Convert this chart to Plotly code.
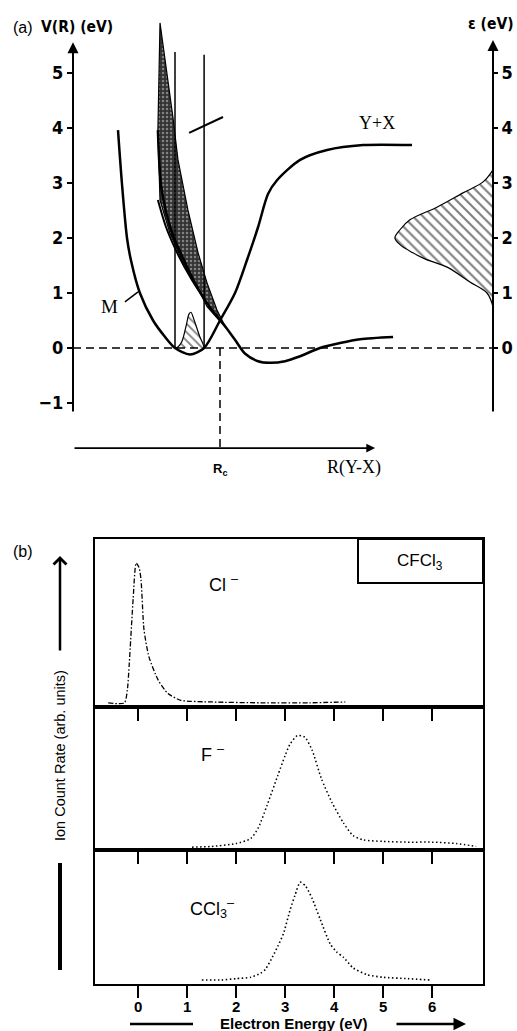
import plotly.graph_objects as go

W, H = 517, 1031
SANS = "Liberation Sans, Arial, sans-serif"
NARROW = "Liberation Sans Narrow, DejaVu Sans Condensed, Liberation Sans, Arial, sans-serif"
SERIF = "Liberation Serif, Times New Roman, serif"

# ---------------- Panel (a): potential-energy schematic ----------------
# R in arbitrary units, V / epsilon in eV
M_R = [1.5, 1.63, 1.8, 1.93, 2.23, 2.67, 3.07, 3.4, 3.9, 4.37, 4.9, 5.4, 5.8, 6.17, 6.5, 6.8, 7.57, 8.47, 9.67, 11.3]
M_V = [3.96, 3.0, 2.0, 1.6, 1.0, 0.5, 0.2, 0.0, -0.12, 0.0, 0.5, 1.0, 1.6, 2.2, 2.8, 3.05, 3.42, 3.6, 3.69, 3.69]
REP_R = [2.83, 2.95, 3.3, 3.73, 4.2, 4.63, 4.97, 5.4, 5.73, 6.17, 6.57, 7.07, 7.57, 8.23, 8.9, 9.57, 10.67]
REP_V = [3.96, 2.9, 2.1, 1.56, 1.05, 0.69, 0.47, 0.15, -0.1, -0.24, -0.27, -0.24, -0.15, 0.0, 0.09, 0.16, 0.2]
REP2_R = [2.83, 3.1, 3.5, 3.95, 4.4]
REP2_V = [2.69, 2.2, 1.7, 1.25, 0.87]
BAND_R = [2.9, 2.83, 2.9, 3.23, 3.63, 4.07, 4.47, 5.1, 4.8, 4.47, 4.17, 3.83, 3.5, 3.33, 2.9]
BAND_V = [5.91, 3.96, 2.69, 2.09, 1.6, 1.18, 0.75, 0.36, 0.69, 1.18, 1.73, 2.51, 3.42, 4.2, 5.91]
PSI_R = [3.4, 3.5, 3.63, 3.77, 3.87, 3.93, 4.03, 4.13, 4.23, 4.33, 4.37]
PSI_V = [0, 0.02, 0.12, 0.4, 0.62, 0.65, 0.52, 0.36, 0.2, 0.08, 0]
EPS_R = [14.0, 13.8, 13.23, 12.47, 11.73, 11.33, 10.9, 10.73, 10.9, 11.23, 12.13, 13.0, 13.67, 14.0]
EPS_V = [0.75, 1.0, 1.2, 1.47, 1.62, 1.73, 1.88, 2.0, 2.15, 2.33, 2.56, 2.82, 3.02, 3.24]
FC_R = [3.4, 4.37]
FC_TOP = [5.38, 5.33]
SLASH_R = [3.87, 5.0]
SLASH_V = [3.91, 4.2]
V_TICKS = [-1, 0, 1, 2, 3, 4, 5]
EPS_TICKS = [0, 1, 2, 3, 4, 5]
R_C = 4.9
R_AXIS_END = 10.07
EPS_AXIS_R = 14.0

# ---------------- Panel (b): ion yield spectra ----------------
E_TICKS = [0, 1, 2, 3, 4, 5, 6]
CL_E = [-0.61, -0.28, -0.22, -0.18, -0.1, -0.04, 0.02, 0.06, 0.12, 0.22, 0.41, 0.61, 0.87, 1.5, 2.5, 3.5, 4.23]
CL_Y = [0.024, 0.024, 0.1, 0.26, 0.65, 0.857, 0.83, 0.755, 0.46, 0.3, 0.16, 0.08, 0.04, 0.03, 0.025, 0.025, 0.03]
F_E = [1.1, 1.5, 2.0, 2.3, 2.46, 2.63, 2.85, 3.0, 3.1, 3.25, 3.4, 3.55, 3.74, 3.96, 4.19, 4.39, 4.6, 5.0, 5.5, 6.0, 6.5, 6.9]
F_Y = [0.02, 0.025, 0.045, 0.08, 0.16, 0.31, 0.52, 0.66, 0.74, 0.80, 0.79, 0.70, 0.50, 0.33, 0.19, 0.10, 0.07, 0.06, 0.055, 0.055, 0.045, 0.025]
CCL3_E = [1.3, 1.7, 2.0, 2.3, 2.5, 2.6, 2.74, 2.85, 2.97, 3.1, 3.2, 3.31, 3.42, 3.55, 3.72, 3.92, 4.05, 4.19, 4.39, 4.67, 5.0, 5.5, 5.95]
CCL3_Y = [0.03, 0.03, 0.04, 0.05, 0.08, 0.11, 0.2, 0.28, 0.38, 0.55, 0.66, 0.76, 0.73, 0.64, 0.48, 0.3, 0.24, 0.2, 0.12, 0.07, 0.05, 0.04, 0.03]


def px(x):
    return x / W


def py(y):
    return 1 - y / H


fig = go.Figure()

# band (stippled)
fig.add_trace(go.Scatter(x=BAND_R, y=BAND_V, mode="lines", fill="toself",
                         line=dict(color="black", width=1.2),
                         fillcolor="#4a4a4a",
                         fillpattern=dict(shape=".", fgcolor="#d0d0d0", bgcolor="#333333", size=4, solidity=0.3),
                         xaxis="x", yaxis="y", hoverinfo="skip"))
# Franck-Condon vertical lines
for r, top in zip(FC_R, FC_TOP):
    fig.add_trace(go.Scatter(x=[r, r], y=[0, top], mode="lines",
                             line=dict(color="black", width=1.5), xaxis="x", yaxis="y", hoverinfo="skip"))
# small vibrational wavefunction (hatched)
fig.add_trace(go.Scatter(x=PSI_R, y=PSI_V, mode="lines", fill="toself", line=dict(color="black", width=1.2, shape="spline"),
                         fillcolor="white",
                         fillpattern=dict(shape="\\", fgcolor="black", bgcolor="white", size=6, solidity=0.3),
                         xaxis="x", yaxis="y", hoverinfo="skip"))
# epsilon distribution (hatched)
fig.add_trace(go.Scatter(x=EPS_R, y=EPS_V, mode="lines", fill="toself", line=dict(color="black", width=1.2, shape="spline"),
                         fillcolor="white",
                         fillpattern=dict(shape="\\", fgcolor="black", bgcolor="white", size=7, solidity=0.3),
                         xaxis="x", yaxis="y", hoverinfo="skip"))
# neutral potential M
fig.add_trace(go.Scatter(x=M_R, y=M_V, mode="lines", line=dict(color="black", width=2.5, shape="spline", smoothing=0.8),
                         xaxis="x", yaxis="y", hoverinfo="skip"))
# anion potential
fig.add_trace(go.Scatter(x=REP_R, y=REP_V, mode="lines", line=dict(color="black", width=2.5, shape="spline", smoothing=0.8),
                         xaxis="x", yaxis="y", hoverinfo="skip"))
fig.add_trace(go.Scatter(x=REP2_R, y=REP2_V, mode="lines", line=dict(color="black", width=2, shape="spline", smoothing=0.8),
                         xaxis="x", yaxis="y", hoverinfo="skip"))
# small slanted mark
fig.add_trace(go.Scatter(x=SLASH_R, y=SLASH_V, mode="lines", line=dict(color="black", width=2),
                         xaxis="x", yaxis="y", hoverinfo="skip"))
# dashed zero line
fig.add_trace(go.Scatter(x=[0, EPS_AXIS_R], y=[0, 0], mode="lines", line=dict(color="black", width=1.5, dash="8px,5px"),
                         xaxis="x", yaxis="y", hoverinfo="skip"))
# dashed Rc line
fig.add_trace(go.Scatter(x=[R_C, R_C], y=[0, -1.82], mode="lines", line=dict(color="black", width=1.5, dash="8px,5px"),
                         xaxis="x", yaxis="y", hoverinfo="skip"))
# invisible trace on y2 so the right axis is drawn
fig.add_trace(go.Scatter(x=[EPS_AXIS_R], y=[0], mode="markers", marker=dict(size=0.1, color="rgba(0,0,0,0)"),
                         xaxis="x", yaxis="y2", hoverinfo="skip"))

# ---- panel (b) traces ----
fig.add_trace(go.Scatter(x=CL_E, y=CL_Y, mode="lines", line=dict(color="black", width=1.3, dash="5px,2px,1.5px,2px", shape="spline", smoothing=0.6),
                         xaxis="x3", yaxis="y3", hoverinfo="skip"))
fig.add_trace(go.Scatter(x=F_E, y=F_Y, mode="lines", line=dict(color="black", width=1.5, dash="1.5px,2.5px", shape="spline", smoothing=0.6),
                         xaxis="x4", yaxis="y4", hoverinfo="skip"))
fig.add_trace(go.Scatter(x=CCL3_E, y=CCL3_Y, mode="lines", line=dict(color="black", width=1.6, dash="1.5px,2.5px", shape="spline", smoothing=0.6),
                         xaxis="x5", yaxis="y5", hoverinfo="skip"))

ann = []


def darrow(x0, y0, x1, y1, width=2):
    ann.append(dict(x=x1, y=y1, ax=x0, ay=y0, xref="x", yref="y", axref="x", ayref="y",
                    text="", showarrow=True, arrowhead=2, arrowsize=1.1, arrowwidth=width, arrowcolor="black"))


darrow(0, -1.18, 0, 5.56)
darrow(EPS_AXIS_R, -1.18, EPS_AXIS_R, 5.6)
darrow(0, -1.82, R_AXIS_END, -1.82, 1.6)


def txt(x, y, s, size, family=SANS, xref="paper", yref="paper", xanchor="center", **kw):
    ann.append(dict(x=x, y=y, xref=xref, yref=yref, text=s, showarrow=False, xanchor=xanchor, yanchor="middle",
                    font=dict(size=size, family=family, color="black"), **kw))


txt(px(11), py(27), "(a)", 16, xanchor="left")
txt(px(39), py(27), "<b>V(R) (eV)</b>", 15.5, NARROW, xanchor="left")
txt(px(516), py(24), "<b>ε (eV)</b>", 15.5, NARROW, xanchor="right")
txt(10.13, 4.09, "Y+X", 18, SERIF, xref="x", yref="y")
txt(1.23, 0.75, "M", 19, SERIF, xref="x", yref="y")
txt(R_C, -2.2, "<b>R<sub>c</sub></b>", 13, xref="x", yref="y")
txt(9.37, -2.18, "R(Y-X)", 18, SERIF, xref="x", yref="y")

# panel (b) texts
txt(px(11), py(551), "(b)", 16, xanchor="left")
txt(px(207), py(583), "Cl <sup>–</sup>", 18, xanchor="left")
txt(px(199), py(753), "F <sup>–</sup>", 18, xanchor="left")
txt(px(188), py(908), "CCl<sub>3</sub><sup>–</sup>", 18, xanchor="left")
txt(px(420), py(562), "CFCl<sub>3</sub>", 17)
txt(px(60), py(756), "Ion Count Rate (arb. units)", 14.5, textangle=-90)
txt(px(294), py(1023), "<b>Electron Energy (eV)</b>", 15)
ann.append(dict(x=px(60), y=py(556), ax=0, ay=96, xref="paper", yref="paper", axref="pixel", ayref="pixel",
                text="", showarrow=True, arrowhead=4, arrowsize=1, arrowwidth=2.5, arrowcolor="black"))
ann.append(dict(x=px(466), y=py(1024), ax=-71, ay=0, xref="paper", yref="paper", axref="pixel", ayref="pixel",
                text="", showarrow=True, arrowhead=2, arrowsize=1, arrowwidth=2.5, arrowcolor="black"))

shapes = [
    dict(type="line", xref="x", yref="y", x0=1.73, y0=0.84, x1=2.17, y1=1.02, line=dict(color="black", width=1.5)),
    dict(type="rect", xref="paper", yref="paper", x0=px(358), y0=py(583), x1=px(483), y1=py(539),
         line=dict(color="black", width=2)),
    dict(type="line", xref="paper", yref="paper", x0=px(60), y0=py(863), x1=px(60), y1=py(970),
         line=dict(color="black", width=4)),
    dict(type="line", xref="paper", yref="paper", x0=px(130), y0=py(1024), x1=px(193), y1=py(1024),
         line=dict(color="black", width=2.5)),
]

frame = dict(showline=True, mirror=True, linecolor="black", linewidth=2, showgrid=False, zeroline=False,
             automargin=False)
xb = dict(range=[-0.88, 7.04], domain=[px(95), px(483)], tickvals=E_TICKS, ticks="outside", ticklen=12,
          tickwidth=2, tickcolor="black", **frame)
yb = dict(range=[0, 1], showticklabels=False, ticks="", **frame)
VRANGE = [-2.4, (348 - 15) / 55]

fig.update_layout(
    width=W, height=H, margin=dict(l=0, r=0, t=0, b=0, autoexpand=False),
    paper_bgcolor="white", plot_bgcolor="rgba(0,0,0,0)", showlegend=False,
    xaxis=dict(domain=[px(73), 1], range=[0, (W - 73) / 30], visible=False, anchor="y", automargin=False),
    yaxis=dict(domain=[py(480), py(15)], range=VRANGE, anchor="x", automargin=False,
               tickvals=V_TICKS, ticks="outside", ticklen=5, tickwidth=1.5, tickcolor="black",
               showline=False, showgrid=False, zeroline=False,
               tickfont=dict(size=18, family=NARROW, color="black", weight="bold")),
    yaxis2=dict(overlaying="y", anchor="free", position=px(493), side="right", automargin=False,
                range=VRANGE, tickvals=EPS_TICKS, ticks="outside", ticklen=4, tickwidth=1.5,
                tickcolor="black", showline=False, showgrid=False, zeroline=False,
                tickfont=dict(size=18, family=NARROW, color="black", weight="bold")),
    xaxis3=dict(anchor="y3", showticklabels=False, **xb),
    yaxis3=dict(domain=[py(707), py(539)], anchor="x3", **yb),
    xaxis4=dict(anchor="y4", matches="x3", showticklabels=False, **xb),
    yaxis4=dict(domain=[py(850), py(707)], anchor="x4", **yb),
    xaxis5=dict(anchor="y5", matches="x3", showticklabels=True, ticklabelstandoff=-4,
                tickfont=dict(size=15, family=SANS, color="black", weight="bold"), **xb),
    yaxis5=dict(domain=[py(984), py(850)], anchor="x5", **yb),
    annotations=ann, shapes=shapes,
)

fig.write_html("out.html", config={"displayModeBar": False},
               post_script="document.body.style.margin='0px';document.body.style.overflow='hidden';")
